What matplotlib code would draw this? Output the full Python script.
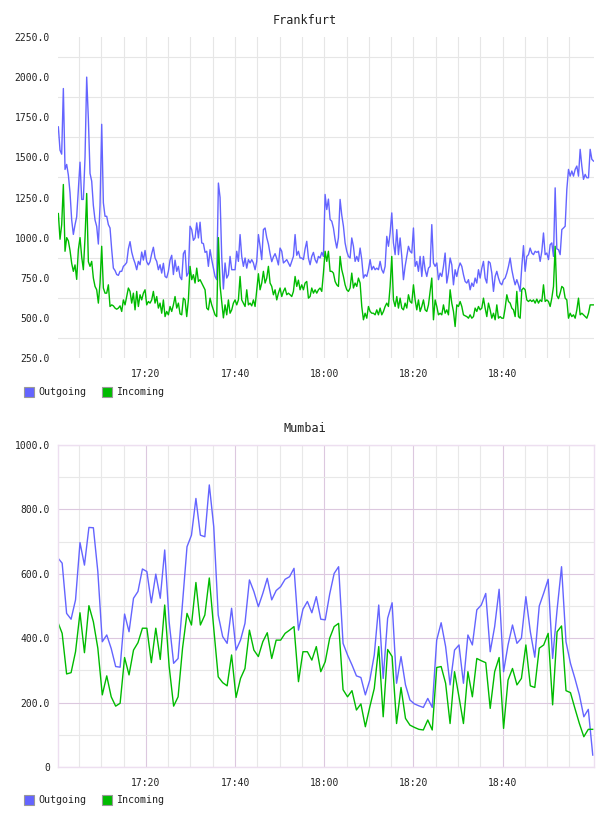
import numpy as np
import matplotlib
matplotlib.use('Agg')
import matplotlib.pyplot as plt
from matplotlib.patches import Rectangle
from matplotlib.ticker import FixedLocator, MultipleLocator

# time axis = minutes after 17:00
tick_minutes = [20, 40, 60, 80, 100]
tick_labels = ['17:20', '17:40', '18:00', '18:20', '18:40']
grid_minutes = list(range(5, 120, 5))   # 17:05 .. 18:55

# Frankfurt, one sample about every 22 s
fra_start = 0.366
fra_step = 0.3739
fra_out = [
    1690, 1545, 1520, 1929, 1425, 1456, 1390, 1280, 1110, 1020,
    1080, 1130, 1300, 1470, 1238, 1238, 1500, 2000, 1740, 1400,
    1352, 1200, 1110, 1070, 960, 1200, 1706, 1217, 1133, 1133,
    1081, 1060, 925, 810, 795, 770, 765, 790, 790, 821,
    831, 845, 930, 975, 910, 870, 840, 800, 852, 831,
    910, 860, 920, 850, 830, 850, 900, 940, 873, 852,
    800, 831, 779, 840, 758, 750, 790, 860, 890, 770,
    860, 790, 821, 755, 738, 900, 920, 760, 780,
    # 17:30
    1071, 1050, 983, 998, 1092, 998, 1096, 967, 963, 908,
    915, 821, 925, 863, 810, 758, 738, 1340, 1250, 880,
    680, 842, 748, 769, 883, 800, 800, 800, 915, 852,
    1019, 883, 821, 873, 810, 863, 842, 863, 842, 800,
    852, 1019, 946, 863, 1050, 1060, 1000, 960, 900, 850,
    880, 900, 870, 830, 935, 915, 842, 852, 863, 842,
    821, 852, 883, 1019, 890, 915, 873, 873, 863, 930,
    977, 873, 831, 883, 908, 863, 842, 883, 873, 908,
    883,
    # 18:00
    1269, 1175, 1240, 1113, 1102, 1060, 988, 935, 1000, 1238,
    1140, 1071, 967, 915, 883, 873, 998, 946, 852, 883,
    852, 935, 863, 748, 769, 758, 800, 863, 800, 821,
    800, 810, 800, 852, 800, 779, 821, 1008, 946, 1029,
    1154, 967, 894, 1050, 894, 998, 883, 738, 821, 883,
    946, 915, 904, 1060, 821, 852, 790, 883, 758, 883,
    800, 758, 810, 821, 1081, 842, 821, 842, 738, 779,
    758, 821, 904, 717, 779, 873, 831, 706, 800, 758,
    810,
    # 18:30
    842, 821, 769, 727, 717, 738, 675, 717, 696, 748,
    717, 800, 748, 810, 852, 748, 717, 852, 842, 779,
    665, 758, 790, 748, 717, 706, 738, 748, 779, 821,
    873, 800, 748, 706, 738, 706, 665,
    821, 950, 790, 883, 894, 935, 904, 894, 915, 908,
    915, 852, 915, 1029, 894, 904, 863, 956, 967, 883,
    1310, 930, 925, 894, 1050, 1060, 1071, 1300, 1425, 1383,
    1415, 1383, 1425, 1446, 1383, 1550, 1446, 1363, 1394, 1373,
    1373, 1550, 1488, 1477,
]
fra_in = [
    1150, 990, 1080, 1331, 915, 1000, 980, 920, 840, 790,
    830, 740, 925, 1000, 880, 800, 1000, 1275, 850, 821,
    852, 748, 696, 675, 592, 717, 946, 686, 654, 654,
    706, 571, 581, 575, 561, 554, 561, 575, 540, 612,
    581, 633, 686, 665, 592, 654, 550, 665, 571, 644,
    612, 654, 675, 581, 602, 592, 612, 665, 592, 633,
    561, 592, 529, 612, 508, 540, 519, 571, 540, 581,
    633, 561, 592, 525, 519, 623, 612, 508, 612,
    # 17:30
    821, 738, 769, 717, 810, 727, 738, 717, 696, 675,
    561, 550, 623, 581, 550, 519, 508, 1000, 700, 600,
    500, 581, 519, 612, 529, 550, 592, 612, 581, 612,
    758, 612, 592, 571, 675, 581, 592, 575, 612, 571,
    675, 775, 675, 717, 790, 717, 748, 821, 717, 696,
    644, 675, 612, 654, 686, 633, 665, 686, 644, 654,
    644, 633, 665, 758, 696, 735, 675, 706, 675, 717,
    727, 623, 633, 686, 654, 675, 654, 675, 686, 665,
    779,
    # 18:00
    915, 852, 915, 790, 790, 779, 727, 706, 696, 883,
    800, 758, 706, 675, 665, 686, 779, 686, 717, 696,
    748, 717, 571, 488, 529, 498, 571, 540, 529, 529,
    519, 550, 519, 561, 519, 540, 571, 592, 571, 696,
    883, 612, 571, 633, 561, 623, 561, 550, 592, 561,
    644, 602, 592, 706, 612, 550, 612, 540, 571, 612,
    550, 540, 581, 665, 748, 488, 612, 571, 519, 529,
    519, 581, 529, 550, 519, 675, 592, 540, 446, 581,
    571,
    # 18:30
    602, 571, 519, 513, 508, 498, 519, 498, 508, 561,
    540, 571, 550, 561, 623, 561, 508, 592, 550, 498,
    529, 488, 581, 498, 508, 498, 498, 561, 644, 602,
    592, 561, 550, 508, 665, 508, 498,
    675, 686, 675, 612, 602, 612, 602, 612, 592, 617,
    592, 612, 602, 706, 602, 612, 602, 571, 623, 696,
    946, 640, 620, 654, 696, 686, 623, 612, 498, 529,
    508, 519, 498, 550, 623, 519, 529, 519, 508, 498,
    529, 581, 581, 581,
]

# Mumbai, one sample a minute
mum_start = 0.22
mum_step = 1.0
mum_out = [
    650, 633, 477, 459, 519, 697, 627, 744, 743, 607,
    389, 410, 368, 312, 310, 475, 420, 524, 545, 615,
    607, 510, 599, 524, 674, 450, 322, 337, 510, 684,
    720, 834, 720, 715, 876, 746, 472, 405, 384, 493,
    363, 394, 446, 581, 545, 498, 539, 586, 519, 548,
    560, 583, 591, 617, 425, 490, 514, 479, 529, 459,
    457, 537, 601, 622, 384, 348, 317, 283, 278, 224,
    270, 348, 503, 275, 462, 510, 260, 343, 255, 208,
    196, 190, 185, 213, 185, 394, 448, 374, 255, 363,
    379, 260, 410, 379, 488, 503, 539, 358, 436, 552,
    296, 379, 441, 384, 400, 529, 420, 341, 500, 540,
    583, 337, 488, 622, 389, 322, 275, 224, 156, 179,
    37,
]
mum_in = [
    451, 415, 289, 293, 358, 479, 355, 501, 451, 369,
    224, 283, 218, 189, 198, 340, 286, 363, 386, 431,
    431, 324, 431, 334, 503, 312, 189, 218, 369, 477,
    441, 573, 441, 472, 587, 430, 280, 262, 252, 348,
    216, 275, 306, 425, 363, 343, 389, 417, 337, 394,
    394, 415, 425, 436, 265, 358, 358, 332, 374, 296,
    327, 400, 436, 446, 240, 218, 237, 177, 196, 125,
    187, 244, 374, 156, 365, 343, 135, 247, 151, 130,
    123, 117, 115, 146, 115, 309, 312, 260, 135, 296,
    218, 135, 296, 218, 337, 330, 324, 182, 296, 340,
    120, 270, 306, 255, 275, 379, 252, 247, 369, 379,
    415, 193, 420, 438, 237, 231, 182, 135, 94, 117,
    117,
]

fra_ticks = [250, 500, 750, 1000, 1250, 1500, 1750, 2000, 2250]
fra_tick_labels = ['250.0', '500.0', '750.0', '1000.0', '1250.0', '1500.0', '1750.0', '2000.0', '2250.0']
mum_ticks = [0, 200, 400, 600, 800, 1000]
mum_tick_labels = ['0', '200.0', '400.0', '600.0', '800.0', '1000.0']

blue = '#6464ff'
green = '#00bb00'
mono = 'DejaVu Sans Mono'

fig = plt.figure(figsize=(6.08, 8.16), dpi=100)
W, H = 608.0, 816.0


def make_axes(top_px, bottom_px):
    return fig.add_axes([57.7 / W, 1 - bottom_px / H, (594 - 57.7) / W, (bottom_px - top_px) / H])


def style_x(ax):
    ax.set_xlim(0.22, 120.5)
    ax.xaxis.set_major_locator(FixedLocator(tick_minutes))
    ax.set_xticklabels(tick_labels)
    ax.xaxis.set_minor_locator(FixedLocator(grid_minutes))
    ax.tick_params(axis='both', which='both', length=0, labelsize=7, colors='#222222')
    ax.tick_params(axis='x', pad=8)
    ax.tick_params(axis='y', pad=5.5)
    for lab in ax.get_xticklabels() + ax.get_yticklabels():
        lab.set_family(mono)


def legend(y_px):
    for x0, col, name in [(24, blue, 'Outgoing'), (102, green, 'Incoming')]:
        fig.patches.append(Rectangle((x0 / W, 1 - (y_px + 5) / H), 10 / W, 10 / H,
                                     transform=fig.transFigure, facecolor=col,
                                     edgecolor='#999999', linewidth=0.8))
        fig.text((x0 + 14) / W, 1 - y_px / H, name, fontsize=7.2, family=mono,
                 va='center', ha='left', color='#222222')


# Frankfurt
ax1 = make_axes(37, 358)
ax1.plot(fra_start + fra_step * np.arange(len(fra_out)), fra_out, color=blue, lw=1.0)
ax1.plot(fra_start + fra_step * np.arange(len(fra_in)), fra_in, color=green, lw=1.0)
ax1.set_ylim(250, 2250)
ax1.yaxis.set_major_locator(FixedLocator(fra_ticks))
ax1.set_yticklabels(fra_tick_labels)
ax1.yaxis.set_minor_locator(FixedLocator([v + 125 for v in fra_ticks[:-1]]))
style_x(ax1)
for s in ax1.spines.values():
    s.set_visible(False)
ax1.set_axisbelow(True)
ax1.xaxis.grid(True, which='both', color='#e6e6e6', lw=0.8)
ax1.yaxis.grid(True, which='minor', color='#e6e6e6', lw=0.8)
ax1.yaxis.grid(False, which='major')
fig.text(305 / W, 1 - 20 / H, 'Frankfurt', fontsize=8.5, family=mono,
         ha='center', va='center', color='#222222')
legend(392)

# Mumbai
ax2 = make_axes(445, 767)
ax2.plot(mum_start + mum_step * np.arange(len(mum_out)), mum_out, color=blue, lw=1.0)
ax2.plot(mum_start + mum_step * np.arange(len(mum_in)), mum_in, color=green, lw=1.0)
ax2.set_ylim(0, 1000)
ax2.yaxis.set_major_locator(FixedLocator(mum_ticks))
ax2.set_yticklabels(mum_tick_labels)
ax2.yaxis.set_minor_locator(MultipleLocator(100))
style_x(ax2)
for s in ax2.spines.values():
    s.set_color('#eddff0')
    s.set_linewidth(1.0)
ax2.set_axisbelow(True)
ax2.grid(True, which='minor', color='#e8e8e8', lw=0.8)
ax2.grid(True, which='major', color='#dcc8df', lw=0.8)
fig.text(305 / W, 1 - 428 / H, 'Mumbai', fontsize=8.5, family=mono,
         ha='center', va='center', color='#222222')
legend(800)

plt.savefig('out.png', dpi=100)
